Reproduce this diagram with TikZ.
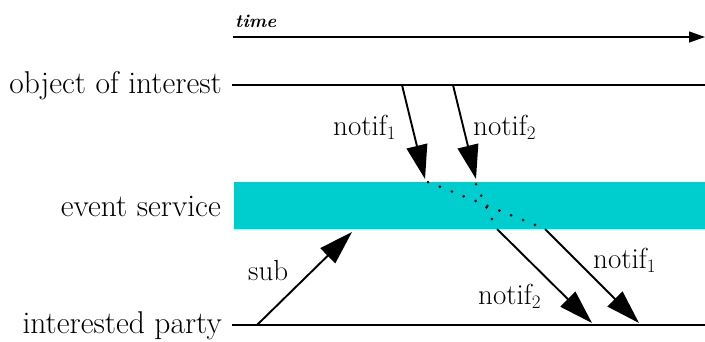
\documentclass[tikz,border=0pt]{standalone}
\usepackage{fontspec}
\usetikzlibrary{arrows.meta}
\definecolor{evcyan}{RGB}{0,206,206}
\newcommand\lowsub[1]{\raisebox{-0.35ex}{\fontsize{19}{19}\selectfont #1}}
\begin{document}
\begin{tikzpicture}[x=1pt,y=-1pt,
  lane/.style={line width=1.3pt},
  msg/.style={line width=1.9pt,-{Triangle[length=34pt,width=21pt]}},
  hop/.style={line width=3pt, dash pattern=on 0pt off 12.8pt, line cap=round},
  lanelabel/.style={anchor=base east, inner sep=0pt, font=\fontsize{31.5}{36}\selectfont},
  msglabel/.style={anchor=base west, inner sep=0pt, font=\fontsize{29}{33}\selectfont}]
\useasboundingbox (0,0) rectangle (705,341);
% event service band
\fill[evcyan] (234,182) rectangle (705,229);
% time axis
\node[anchor=base west, inner sep=0pt, font=\fontsize{18.5}{22}\selectfont\bfseries\itshape] (tl) at (235,27) {time};
\coordinate (t0) at (233,37);
\coordinate (t1) at (705,37);
\draw[line width=1.3pt,-{Triangle[length=16pt,width=11pt]}] (t0) -- (t1);
% lanes
\node[lanelabel] (ooi) at (222,93) {object of interest};
\node[lanelabel] (es) at (221,216) {event service};
\node[lanelabel] (ip) at (222,333) {interested party};
\coordinate (o0) at (232,85);
\coordinate (o1) at (705,85);
\coordinate (p0) at (232,325);
\coordinate (p1) at (705,325);
\draw[lane] (o0) -- (o1);
\draw[lane] (p0) -- (p1);
% notifications from object of interest
\coordinate (a1s) at (402,85);
\coordinate (a1e) at (425,179);
\coordinate (a2s) at (453,85);
\coordinate (a2e) at (476,179);
\draw[msg] (a1s) -- (a1e);
\draw[msg] (a2s) -- (a2e);
\node[msglabel] (l1a) at (333,135) {notif\lowsub{1}};
\node[msglabel] (l2a) at (473,135) {notif\lowsub{2}};
% passage through the event service
\coordinate (h1s) at (428,182);
\coordinate (h1e) at (543,228);
\coordinate (h2s) at (476,184);
\coordinate (h2e) at (495,226);
\draw[hop] (h1s) -- (h1e);
\draw[hop] (h2s) -- (h2e);
% notifications to interested party
\coordinate (b2s) at (497,229);
\coordinate (b2e) at (592,323);
\coordinate (b1s) at (545,229);
\coordinate (b1e) at (639,323);
\draw[msg] (b2s) -- (b2e);
\draw[msg] (b1s) -- (b1e);
\node[msglabel] (l1b) at (593,268) {notif\lowsub{1}};
\node[msglabel] (l2b) at (478,304) {notif\lowsub{2}};
% subscription
\coordinate (ss) at (257,325);
\coordinate (se) at (352,232);
\draw[msg] (ss) -- (se);
\node[msglabel] (ls) at (248,280) {sub};
\end{tikzpicture}
\end{document}
